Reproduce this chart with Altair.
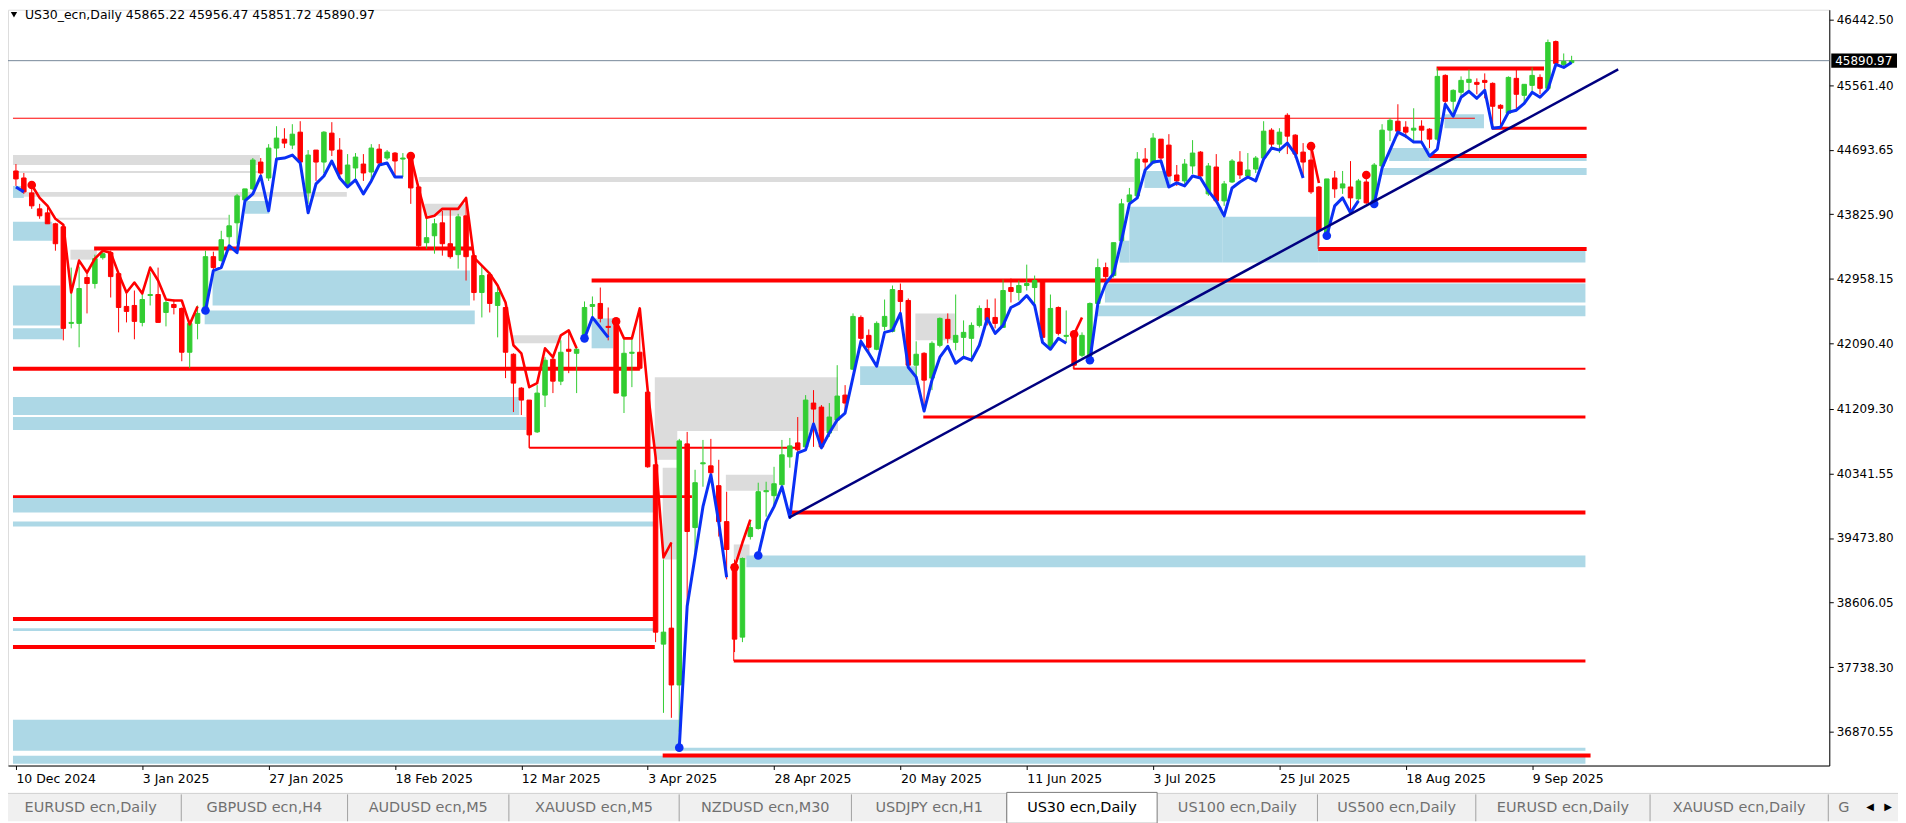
import altair as alt
import pandas as pd
import numpy as np

# ---------------- data ----------------
symbol = "US30_ecn,Daily"
last_ohlc = [45865.22, 45956.47, 45851.72, 45890.97]
current_price = 45890.97

date_labels = ["10 Dec 2024", "3 Jan 2025", "27 Jan 2025", "18 Feb 2025", "12 Mar 2025",
               "3 Apr 2025", "28 Apr 2025", "20 May 2025", "11 Jun 2025", "3 Jul 2025",
               "25 Jul 2025", "18 Aug 2025", "9 Sep 2025"]
bars_per_label = 16

price_ticks = [46442.50, 45561.40, 44693.65, 43825.90, 42958.15, 42090.40,
               41209.30, 40341.55, 39473.80, 38606.05, 37738.30, 36870.55]

opens = [
    44408, 44314, 44113, 43899, 43845, 43698, 43658, 42359, 42359, 42975,
    42895, 43243, 43310, 43028, 42587, 42600, 42372, 42734, 42747, 42506,
    42613, 42560, 41971, 42359, 42533, 43256, 43203, 43524, 43711, 44019,
    44167, 44528, 44314, 44716, 44836, 44756, 44930, 44113, 44689, 44528,
    44917, 44689, 44234, 44448, 44501, 44394, 44702, 44582, 44649, 44568,
    44609, 44193, 43444, 43537, 43711, 43430, 43283, 43805, 43270, 42774,
    43015, 42600, 42573, 41944, 41489, 41328, 40900, 41395, 41877, 41582,
    42011, 41957, 42171, 42587, 42627, 42319, 42372, 41382, 41957, 41971,
    41435, 40458, 38047, 38262, 37498, 40739, 39614, 40471, 40444, 40177,
    39694, 39118, 38141, 39493, 39601, 40096, 40043, 40190, 40565, 40752,
    40699, 41288, 41234, 40886, 41060, 41395, 41743, 42439, 42198, 42011,
    42319, 42252, 42801, 42667, 41797, 41957, 41623, 42064, 42413, 42104,
    42171, 42158, 42332, 42560, 42439, 42305, 42841, 42774, 42868, 42841,
    42921, 42038, 42573, 42185, 42225, 41930, 41930, 42627, 43109, 43002,
    43471, 43993, 44073, 44568, 44515, 44836, 44756, 44354, 44274, 44475,
    44662, 44100, 44461, 44006, 44260, 44528, 44341, 44434, 44582, 44957,
    44769, 45157, 44890, 44662, 44555, 44193, 43578, 44314, 44180, 44193,
    44033, 44260, 44006, 44475, 44957, 45077, 44997, 44957, 45010, 44970,
    44836, 45693, 45345, 45466, 45599, 45599, 45626, 45586, 45291, 45184,
    45653, 45425, 45559, 45666, 45519, 46148, 45840, 45865.22]

highs = [
    44501, 44381, 44180, 43966, 43912, 43711, 43671, 43109, 43122, 43069,
    43283, 43337, 43337, 43042, 42761, 42801, 42801, 43042, 43109, 42667,
    42680, 42573, 42372, 42600, 43337, 43323, 43604, 43819, 44100, 44167,
    44582, 44582, 44769, 45010, 44983, 45037, 45077, 44689, 44689, 44943,
    45064, 44850, 44635, 44649, 44635, 44769, 44769, 44689, 44662, 44649,
    44635, 44207, 43778, 43765, 43872, 43899, 43832, 44046, 43283, 43136,
    43042, 42868, 42667, 41957, 41502, 41328, 41529, 41904, 41904, 42131,
    42265, 42038, 42654, 42721, 42841, 42573, 42399, 42158, 42158, 42573,
    41462, 40525, 39185, 39413, 40806, 40900, 40391, 40792, 40806, 40525,
    40096, 39185, 39212, 39681, 40217, 40230, 40431, 40792, 40819, 41100,
    41395, 41462, 41261, 41288, 41797, 41529, 42493, 42466, 42278, 42386,
    42680, 42868, 42895, 42694, 42118, 41971, 42118, 42439, 42493, 42747,
    42399, 42372, 42600, 42680, 42694, 42948, 42962, 42935, 43149, 43002,
    42921, 42747, 42587, 42533, 42238, 42238, 42640, 43229, 43176, 43444,
    44033, 44180, 44662, 44716, 44917, 44836, 44903, 44488, 44568, 44823,
    44675, 44515, 44635, 44274, 44568, 44675, 44649, 44609, 45077, 44983,
    44983, 45184, 44903, 44783, 44783, 44207, 44301, 44408, 44408, 44541,
    44301, 44341, 44515, 45037, 45117, 45305, 45077, 45251, 45090, 44983,
    45787, 45707, 45506, 45680, 45773, 45653, 45720, 45599, 45305, 45680,
    45773, 45573, 45800, 45707, 46175, 46162, 45988, 45956.47]

lows = [
    44207, 44100, 43899, 43765, 43698, 43336, 42131, 42292, 42038, 42493,
    42828, 43216, 42707, 42238, 42372, 42145, 42319, 42600, 42372, 42319,
    42480, 41850, 41756, 42145, 42520, 43028, 43189, 43417, 43430, 44006,
    44153, 44341, 44274, 44555, 44716, 44702, 44501, 43966, 44274, 44381,
    44609, 44301, 44207, 44301, 44274, 44247, 44501, 44555, 44341, 44327,
    43966, 43377, 43363, 43296, 43270, 43229, 43095, 42935, 42667, 42439,
    42506, 42171, 41623, 41167, 41127, 40685, 40886, 41234, 41422, 41529,
    41690, 41422, 42171, 42426, 42372, 42131, 41422, 41154, 41502, 41730,
    40418, 38074, 37123, 37056, 36869, 38556, 39279, 40163, 40283, 39493,
    38918, 37940, 38074, 39453, 39587, 39761, 39895, 40150, 40418, 40632,
    40685, 40699, 40685, 40833, 41033, 41194, 41730, 42038, 41971, 41998,
    42265, 42238, 42466, 41770, 41596, 41234, 41462, 42038, 42091, 41998,
    41890, 41837, 42305, 42332, 42292, 42305, 42640, 42667, 42801, 42600,
    42158, 42038, 42198, 42104, 41756, 41904, 41864, 42600, 42908, 42975,
    43444, 43966, 44059, 44408, 44501, 44542, 44327, 44207, 44234, 44368,
    44314, 44073, 43979, 43939, 44247, 44301, 44301, 44381, 44568, 44702,
    44649, 44635, 44582, 44341, 44100, 43403, 43564, 44046, 44100, 43845,
    44006, 43966, 43993, 44448, 44809, 44876, 44850, 44809, 44809, 44716,
    44809, 45318, 45144, 45399, 45479, 45439, 45385, 44997, 44997, 45171,
    45238, 45318, 45479, 45439, 45506, 45840, 45813, 45851.72]

closes = [
    44301, 44127, 43939, 43805, 43698, 43430, 42292, 42372, 42828, 42895,
    43229, 43296, 42988, 42573, 42520, 42386, 42680, 42747, 42372, 42640,
    42573, 41971, 42359, 42493, 43256, 43109, 43484, 43671, 44073, 44167,
    44555, 44381, 44716, 44850, 44783, 44903, 44528, 44622, 44528, 44930,
    44689, 44368, 44488, 44595, 44381, 44716, 44515, 44662, 44542, 44582,
    44180, 43403, 43511, 43698, 43430, 43256, 43792, 43256, 42774, 43002,
    42627, 42774, 41971, 41556, 41328, 40860, 41422, 41864, 41582, 41971,
    41984, 42011, 42573, 42613, 42426, 42305, 41422, 41957, 41971, 41756,
    40431, 38208, 38208, 37498, 40779, 39561, 40217, 40485, 40351, 39694,
    39319, 38114, 39199, 39614, 40096, 40110, 40203, 40592, 40712, 40659,
    41328, 41207, 40699, 41100, 41382, 41288, 42453, 42158, 42038, 42359,
    42453, 42814, 42654, 41797, 41944, 41596, 42091, 42426, 42158, 42198,
    42238, 42332, 42560, 42399, 42359, 42801, 42788, 42868, 42895, 42935,
    42171, 42560, 42225, 42198, 41797, 42198, 42627, 43109, 42988, 43444,
    43966, 44086, 44568, 44528, 44850, 44582, 44341, 44274, 44501, 44649,
    44341, 44475, 44006, 44234, 44542, 44354, 44421, 44582, 44943, 44769,
    44930, 44876, 44635, 44528, 44127, 43604, 44301, 44167, 44234, 44046,
    44274, 43979, 44488, 44957, 45090, 44943, 44930, 44983, 44957, 44836,
    45680, 45345, 45492, 45626, 45640, 45573, 45599, 45278, 45251, 45666,
    45439, 45573, 45693, 45519, 46135, 45854, 45880, 45890.97]

# trailing indicator line (value per bar) and the bars where its direction flips
indicator = [
    44193, 44127, 44220, 44046, 43939, 43765, 43685, 42774, 43203, 43042,
    43229, 43337, 43310, 43028, 42774, 42908, 42761, 43109, 42935, 42680,
    42667, 42667, 42346, 42587, 42533, 43069, 43109, 43403, 43310, 44006,
    44100, 44341, 43872, 44568, 44582, 44622, 44515, 43845, 44234, 44341,
    44542, 44314, 44193, 44287, 44100, 44274, 44488, 44515, 44327, 44327,
    44609, 44167, 43778, 43805, 43899, 43899, 43899, 44046, 43243, 43136,
    43028, 42868, 42640, 42065, 41957, 41502, 41556, 42024, 41904, 42198,
    42265, 42024, 42158, 42439, 42305, 42171, 42386, 42158, 42158, 42560,
    41462, 40565, 39212, 39413, 36655, 38556, 39226, 39895, 40324, 39681,
    38945, 39079, 39413, 39721, 39239, 39694, 39895, 40163, 39748, 40618,
    40658, 41006, 40685, 40886, 41060, 41154, 41636, 42118, 41957, 41783,
    42238, 42265, 42493, 41770, 41636, 41181, 41596, 41904, 42051, 41823,
    41904, 41864, 42065, 42426, 42225, 42332, 42573, 42627, 42734, 42600,
    42104, 42011, 42158, 42091, 42212, 42439, 41864, 42620, 42895, 43029,
    43471, 43966, 44046, 44421, 44528, 44542, 44193, 44247, 44207, 44341,
    44314, 44140, 44006, 43805, 44180, 44260, 44327, 44274, 44568, 44716,
    44689, 44783, 44635, 44314, 44742, 44247, 43537, 43939, 44046, 43845,
    44006, 44354, 43966, 44448, 44689, 44930, 44876, 44796, 44796, 44609,
    44702, 45305, 45144, 45399, 45479, 45385, 45492, 44983, 44997, 45198,
    45225, 45318, 45466, 45399, 45506, 45840, 45800, 45867]
flip_bars = [0, 2, 24, 50, 72, 76, 84, 91, 94, 134, 136, 164, 166, 171, 172]  # first run is bullish

# horizontal levels: price, from bar, to bar, weight
LEFT = -0.375
levels = [
    (45117, LEFT, 184.75, 1), (43367, 9.9, 57.9, 4), (41748, LEFT, 79.0, 4),
    (40686, 65.0, 98.9, 2), (42935, 72.9, 198.75, 4), (40030, LEFT, 85.6, 3),
    (39816, 98.1, 198.75, 4), (38384, LEFT, 80.9, 4), (38009, LEFT, 80.9, 4),
    (37821, 90.9, 198.75, 3), (36549, 81.9, 199.4, 4), (45786, 179.9, 193.5, 4),
    (44983, 186.9, 198.9, 3), (44608, 179.0, 198.9, 4), (43360, 164.9, 198.9, 4),
    (41748, 133.9, 198.75, 2), (41101, 114.9, 198.75, 3)]
level_links = [(65.0, 41328, 40686), (90.9, 38116, 37821), (164.9, 44180, 43360), (133.9, 42198, 41748)]

# zones: from bar, to bar, top price, bottom price
blue_zones = [
    (LEFT, 1.0, 44207, 44046), (LEFT, 4.6, 43724, 43471), (LEFT, 5.6, 42868, 42332),
    (LEFT, 5.9, 42292, 42145), (24.9, 57.5, 43069, 42600), (23.9, 58.1, 42533, 42346),
    (29.0, 32.1, 44006, 43832), (LEFT, 63.75, 41368, 41127), (LEFT, 64.6, 41100, 40926),
    (72.9, 75.6, 42426, 42024), (LEFT, 80.9, 40016, 39815), (LEFT, 80.9, 39694, 39627),
    (LEFT, 80.9, 38262, 38222), (LEFT, 84.0, 37030, 36614), (84.0, 198.75, 36655, 36614),
    (LEFT, 198.75, 36547, 36440), (92.5, 198.75, 39240, 39080), (106.9, 114.1, 41784, 41530),
    (137.9, 198.75, 42896, 42641), (136.9, 198.75, 42601, 42454), (139.75, 141.0, 43471, 43176),
    (141.0, 152.75, 43926, 43176), (152.75, 165.0, 43792, 43176), (165.0, 198.75, 43337, 43176),
    (142.9, 146.25, 44408, 44180), (173.9, 179.0, 44716, 44541), (179.0, 198.9, 44608, 44541),
    (173.0, 198.9, 44448, 44354), (180.9, 185.9, 45171, 44983)]
gray_zones = [
    (LEFT, 30.9, 44622, 44488), (LEFT, 30.9, 44408, 44381), (LEFT, 41.9, 44127, 44060),
    (51.0, 141.6, 44327, 44260), (5.25, 26.9, 43778, 43751), (6.9, 10.25, 43350, 43216),
    (51.75, 56.9, 43966, 43805), (62.9, 69.0, 42198, 42091), (80.9, 104.1, 41636, 40913),
    (80.9, 83.75, 40913, 40525), (81.9, 83.75, 40418, 39185), (89.9, 95.9, 40324, 40110),
    (90.9, 92.9, 39387, 39185), (113.9, 118.9, 42493, 42132)]

trend_from = (97.9, 39748)
trend_to = (202.9, 45774)

tabs = ["EURUSD ecn,Daily", "GBPUSD ecn,H4", "AUDUSD ecn,M5", "XAUUSD ecn,M5", "NZDUSD ecn,M30",
        "USDJPY ecn,H1", "US30 ecn,Daily", "US100 ecn,Daily", "US500 ecn,Daily",
        "EURUSD ecn,Daily", "XAUUSD ecn,Daily", "G"]
active_tab = 6
tab_edges = [0, 182, 349, 511, 682, 855, 1011, 1162, 1323, 1482, 1657, 1836, 1950]

# ---------------- styling ----------------
GREEN, RED, BLUE, NAVY = "#32CD32", "#FF0000", "#0A30F5", "#000080"
ZBLUE, ZGRAY = "#ADD8E6", "#DCDCDC"
FONT = "DejaVu Sans"
W, H = 1829, 759
xs = alt.Scale(domain=[-0.375, 229.0], nice=False, zero=False)
ys = alt.Scale(domain=[36415, 46576], nice=False, zero=False)

n = min(len(opens), len(highs), len(lows), len(closes))
cd = pd.DataFrame({"i": range(n), "o": opens[:n], "h": highs[:n], "l": lows[:n], "c": closes[:n]})
cd["top"] = cd[["o", "c"]].max(axis=1)
cd["bot"] = cd[["o", "c"]].min(axis=1)
cd["col"] = np.where(cd["c"] >= cd["o"], GREEN, RED)

# indicator segments
seg, col = [], []
run = -1
for k in range(len(indicator)):
    if k in flip_bars:
        run += 1
    seg.append(run)
    col.append(BLUE if run % 2 == 0 else RED)
ind = pd.DataFrame({"i": range(len(indicator)), "v": indicator, "seg": seg, "col": col})
ind["sw"] = np.where(ind["col"] == BLUE, 3.0, 2.6)
dots = ind[ind["i"].isin([b for b in flip_bars if b > 0])]

lv = pd.DataFrame(levels, columns=["p", "x0", "x1", "w"])
lk = pd.DataFrame(level_links, columns=["x", "p0", "p1"])
zones = pd.DataFrame([z + (ZGRAY,) for z in gray_zones] + [z + (ZBLUE,) for z in blue_zones],
                     columns=["x0", "x1", "p0", "p1", "col"])
tr = pd.DataFrame({"x0": [trend_from[0]], "x1": [trend_to[0]], "p0": [trend_from[1]], "p1": [trend_to[1]]})
cur = pd.DataFrame({"p": [current_price], "t": [f"{current_price:.2f}"],
                    "b0": [current_price + 95], "b1": [current_price - 95]})

label_js = "[" + ",".join("'" + d + "'" for d in date_labels) + "]"
x_axis = alt.Axis(values=[k * bars_per_label for k in range(len(date_labels))],
                  labelExpr=f"{label_js}[round(datum.value/{bars_per_label})]",
                  orient="bottom", grid=False, domainColor="black", tickColor="black", tickSize=4,
                  labelAlign="left", labelBaseline="top", labelPadding=3, labelFont=FONT,
                  labelFontSize=12.5, labelColor="black", labelFlush=False, labelOverlap=False, title=None)
y_axis = alt.Axis(values=price_ticks, format=".2f", orient="right", grid=False, domainColor="black",
                  tickColor="black", tickSize=4, labelPadding=3, labelFont=FONT, labelFontSize=12,
                  labelColor="black", labelFlush=False, labelOverlap=False, title=None)

X = lambda f: alt.X(f, type="quantitative", scale=xs, axis=x_axis)
Y = lambda f: alt.Y(f, type="quantitative", scale=ys, axis=y_axis)

zone_layer = alt.Chart(zones).mark_rect().encode(
    x=X("x0"), x2="x1", y=Y("p0"), y2="p1", color=alt.Color("col:N", scale=None))
cur_line = alt.Chart(cur).mark_rule(color="#778899", strokeWidth=1).encode(y=Y("p"))
level_layer = alt.Chart(lv).mark_rule(color=RED).encode(
    x=X("x0"), x2="x1", y=Y("p"), strokeWidth=alt.StrokeWidth("w:Q", scale=None))
link_layer = alt.Chart(lk).mark_rule(color=RED, strokeWidth=1).encode(x=X("x"), y=Y("p0"), y2="p1")
wicks = alt.Chart(cd).mark_rule(strokeWidth=1).encode(
    x=X("i"), y=Y("l"), y2="h", color=alt.Color("col:N", scale=None))
bodies = alt.Chart(cd).mark_bar(size=4.5, strokeWidth=1).encode(
    x=X("i"), y=Y("top"), y2="bot", color=alt.Color("col:N", scale=None),
    stroke=alt.Stroke("col:N", scale=None))
ind_line = alt.Chart(ind).mark_line(strokeJoin="round").encode(
    x=X("i"), y=Y("v"), detail="seg:N", order="i:Q",
    color=alt.Color("col:N", scale=None), strokeWidth=alt.StrokeWidth("sw:Q", scale=None))
dot_layer = alt.Chart(dots).mark_circle(size=75, opacity=1).encode(
    x=X("i"), y=Y("v"), color=alt.Color("col:N", scale=None))
trend = alt.Chart(tr).mark_rule(color=NAVY, strokeWidth=2.5).encode(x=X("x0"), x2="x1", y=Y("p0"), y2="p1")
box = alt.Chart(cur).mark_rect(color="black").encode(
    x=alt.value(W + 2), x2=alt.value(W + 68), y=Y("b0"), y2="b1")
box_text = alt.Chart(cur).mark_text(color="white", align="left", baseline="middle",
                                    font=FONT, fontSize=12).encode(
    x=alt.value(W + 6), y=Y("p"), text="t:N")

title_text = f"{symbol}  " + " ".join(f"{v:.2f}" for v in last_ohlc)
title = alt.Chart(pd.DataFrame({"t": [title_text]})).mark_text(
    align="left", baseline="middle", font=FONT, fontSize=12.5, color="black").encode(
    x=alt.value(17), y=alt.value(5), text="t:N")
title_icon = alt.Chart(pd.DataFrame({"t": [0]})).mark_point(
    shape="triangle-down", filled=True, size=40, color="black", opacity=1).encode(
    x=alt.value(6), y=alt.value(5))

layers = [zone_layer, cur_line, level_layer, link_layer, wicks, bodies, ind_line, dot_layer,
          trend, box, box_text, title, title_icon]

# tab bar below the chart
TY0, TY1 = 787, 815
one = pd.DataFrame({"t": [0]})
layers.append(alt.Chart(one).mark_rect(color="#F0F0F0").encode(
    x=alt.value(0), x2=alt.value(W + 69), y=alt.value(TY0), y2=alt.value(TY1)))
layers.append(alt.Chart(one).mark_rule(color="#D0D0D0").encode(
    x=alt.value(0), x2=alt.value(W + 69), y=alt.value(TY0)))
for k, name in enumerate(tabs):
    a, b = tab_edges[k] - 8, tab_edges[k + 1] - 8
    last = k == len(tabs) - 1
    if k == active_tab:
        layers.append(alt.Chart(one).mark_rect(color="white", stroke="#7A7A7A", strokeWidth=1).encode(
            x=alt.value(a), x2=alt.value(b), y=alt.value(TY0 - 1), y2=alt.value(TY1 + 2)))
    elif not last:
        layers.append(alt.Chart(one).mark_rule(color="#A0A0A0").encode(
            x=alt.value(b), y=alt.value(TY0 + 1), y2=alt.value(TY1)))
    layers.append(alt.Chart(pd.DataFrame({"t": [name]})).mark_text(
        align="left" if last else "center", baseline="middle", font=FONT, fontSize=14.5,
        color="black" if k == active_tab else "#707070").encode(
        x=alt.value(a + 10 if last else (a + b) / 2), y=alt.value((TY0 + TY1) / 2 + 1), text="t:N"))
layers.append(alt.Chart(one).mark_text(font=FONT, fontSize=10, color="black").encode(
    x=alt.value(1870), y=alt.value((TY0 + TY1) / 2), text=alt.value("◀")))
layers.append(alt.Chart(one).mark_text(font=FONT, fontSize=10, color="black").encode(
    x=alt.value(1888), y=alt.value((TY0 + TY1) / 2), text=alt.value("▶")))

chart = alt.layer(*layers).properties(
    width=W, height=H,
    autosize=alt.AutoSizeParams(type="none"),
    padding={"left": 0, "top": 0, "right": 69, "bottom": 56},
).configure_view(stroke="black", strokeWidth=1).configure(background="white")

chart.save("out.html", embed_options={"renderer": "svg", "actions": False})
